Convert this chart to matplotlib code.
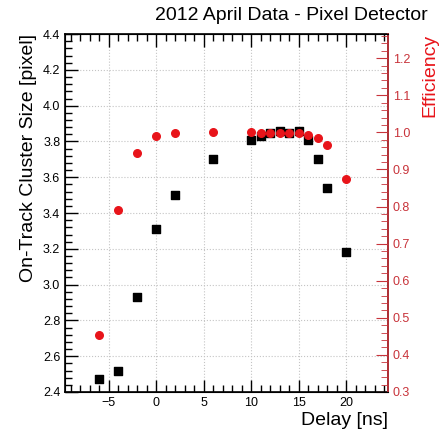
import numpy as np
import matplotlib
matplotlib.use("Agg")
import matplotlib.pyplot as plt
from matplotlib.ticker import MultipleLocator

plt.rcParams["font.family"] = ["Liberation Sans", "DejaVu Sans"]

# delay scan points
delay = [-6, -4, -2, 0, 2, 6, 10, 11, 12, 13, 14, 15, 16, 17, 18, 20]
cluster_size = [2.47, 2.52, 2.93, 3.31, 3.50, 3.70, 3.81, 3.83, 3.85, 3.86,
                3.85, 3.86, 3.81, 3.70, 3.54, 3.18]
efficiency = [0.455, 0.79, 0.945, 0.99, 0.998, 1.0, 1.0, 0.999, 0.998, 0.998,
              0.998, 0.998, 0.993, 0.985, 0.965, 0.875]

red = "#e8141a"
axis_red = "#c8333a"

fig = plt.figure(figsize=(4.43, 4.37), dpi=100)
ax = fig.add_axes([0.147, 0.103, 0.729, 0.819])

ax.set_xlim(-9.6, 24.4)
ax.set_ylim(2.4, 4.4)
ax.xaxis.set_major_locator(MultipleLocator(5))
ax.xaxis.set_minor_locator(MultipleLocator(1))
ax.yaxis.set_major_locator(MultipleLocator(0.2))
ax.yaxis.set_minor_locator(MultipleLocator(0.04))
ax.tick_params(which="both", direction="in", top=True, right=False,
               labelsize=9, width=1)
ax.tick_params(which="major", length=9)
ax.tick_params(which="minor", length=5)
ax.grid(True, which="major", color="#c4c4c4", linestyle=":", linewidth=0.8)
for s in ax.spines.values():
    s.set_linewidth(1.2)

ax.scatter(delay, cluster_size, marker="s", s=30, color="black", zorder=3)

ax2 = ax.twinx()
ax2.set_ylim(0.3, 1.265)
ax2.yaxis.set_major_locator(MultipleLocator(0.1))
ax2.yaxis.set_minor_locator(MultipleLocator(0.02))
ax2.tick_params(which="both", direction="in", colors=axis_red, labelsize=9)
ax2.tick_params(which="major", length=9)
ax2.tick_params(which="minor", length=5)
ax2.spines["right"].set_color(axis_red)
ax2.spines["right"].set_linewidth(1.2)
ax2.scatter(delay, efficiency, marker="o", s=30, color=red, zorder=3)

ax.set_xlabel("Delay [ns]", fontsize=14, loc="right", labelpad=2)
ax.set_ylabel("On-Track Cluster Size [pixel]", fontsize=14, loc="top")
ax2.set_ylabel("Efficiency", fontsize=14, loc="top", color=red, labelpad=8)

fig.text(0.966, 0.945, "2012 April Data - Pixel Detector", ha="right",
         va="bottom", fontsize=14)

fig.savefig("out.png", dpi=100)
